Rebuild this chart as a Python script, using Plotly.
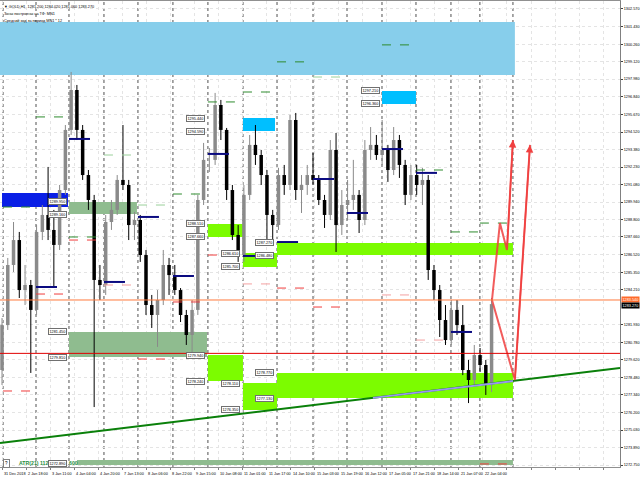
import plotly.graph_objects as go

# ---------------- data ----------------
CANDLE_HOURS = 4  # 4-hour candles (hours since 31 Dec 2018 open)
opens = [1278.96, 1281.90, 1285.83, 1287.46, 1284.19, 1284.52, 1282.89, 1287.99, 1289.10, 1288.12,
         1287.14, 1290.73, 1294.66, 1297.27, 1294.66, 1291.71, 1290.08, 1284.85, 1284.52, 1288.64,
         1289.43, 1291.39, 1291.06, 1288.44, 1288.77, 1286.48, 1283.21, 1282.56, 1283.54, 1285.83,
         1285.17, 1284.19, 1282.56, 1281.25, 1282.89, 1290.08, 1292.70, 1292.70, 1296.29, 1294.66,
         1290.73, 1287.79, 1286.48, 1290.41, 1293.68, 1293.02, 1291.71, 1289.10, 1288.44, 1291.71,
         1291.06, 1295.31, 1290.73, 1291.06, 1291.71, 1291.39, 1290.08, 1289.10, 1293.35, 1288.44,
         1289.75, 1290.08, 1290.41, 1288.77, 1293.35, 1293.68, 1293.02, 1293.35, 1292.04, 1294.00,
         1292.37, 1290.41, 1291.71, 1291.06, 1291.39, 1285.50, 1284.19, 1282.23, 1280.92, 1282.89,
         1281.90, 1278.96, 1278.31, 1279.94, 1279.29, 1277.98]
highs = [1282.36, 1286.29, 1288.64, 1287.99, 1285.83, 1284.85, 1288.44, 1289.75, 1292.24, 1289.43,
         1291.06, 1294.98, 1298.45, 1297.60, 1294.98, 1292.04, 1290.41, 1285.83, 1289.10, 1290.08,
         1291.71, 1294.98, 1291.39, 1289.30, 1289.10, 1286.81, 1283.87, 1284.19, 1286.81, 1286.29,
         1285.83, 1284.32, 1282.89, 1283.54, 1290.41, 1293.81, 1293.48, 1297.08, 1296.62, 1294.79,
         1291.06, 1288.44, 1291.06, 1294.33, 1294.98, 1293.35, 1292.04, 1289.43, 1292.17, 1292.37,
         1295.64, 1295.77, 1291.71, 1292.37, 1293.15, 1291.71, 1290.41, 1294.00, 1294.46, 1290.73,
         1291.39, 1292.70, 1290.73, 1294.00, 1294.85, 1294.33, 1295.31, 1293.68, 1294.85, 1294.33,
         1292.70, 1292.37, 1292.37, 1292.17, 1291.71, 1285.83, 1284.52, 1283.21, 1283.54, 1283.54,
         1283.21, 1279.62, 1280.60, 1280.40, 1279.62, 1283.67]
lows = [1277.98, 1281.58, 1285.37, 1283.67, 1283.21, 1278.77, 1282.56, 1287.46, 1287.46, 1284.39,
        1286.81, 1290.41, 1294.33, 1294.00, 1291.39, 1289.43, 1276.54, 1283.54, 1283.87, 1288.12,
        1289.10, 1290.73, 1287.46, 1287.46, 1286.03, 1282.56, 1281.71, 1280.47, 1283.21, 1283.87,
        1283.87, 1282.10, 1280.60, 1280.14, 1282.56, 1289.75, 1291.91, 1292.37, 1294.00, 1290.08,
        1287.46, 1286.03, 1286.03, 1290.08, 1292.37, 1291.06, 1287.33, 1287.46, 1288.12, 1290.41,
        1290.73, 1290.08, 1289.23, 1290.41, 1291.06, 1289.75, 1288.25, 1288.77, 1286.68, 1287.79,
        1288.77, 1289.43, 1287.92, 1288.44, 1292.70, 1292.70, 1292.37, 1291.26, 1291.71, 1291.52,
        1289.75, 1290.08, 1290.41, 1289.75, 1284.85, 1283.54, 1281.12, 1280.60, 1280.60, 1281.25,
        1278.63, 1276.80, 1277.98, 1278.83, 1277.33, 1277.52]
closes = [1281.90, 1285.83, 1287.46, 1284.19, 1284.52, 1282.89, 1287.99, 1289.10, 1288.12, 1287.14,
          1290.73, 1294.66, 1297.27, 1294.66, 1291.71, 1290.08, 1284.85, 1284.52, 1288.64, 1289.43,
          1291.39, 1291.06, 1288.44, 1288.77, 1286.48, 1283.21, 1282.56, 1283.54, 1285.83, 1285.17,
          1284.19, 1282.56, 1281.25, 1282.89, 1290.08, 1292.70, 1292.70, 1296.29, 1294.66, 1290.73,
          1287.79, 1286.48, 1290.41, 1293.68, 1293.02, 1291.71, 1289.10, 1288.44, 1291.71, 1291.06,
          1295.31, 1290.73, 1291.06, 1291.71, 1291.39, 1290.08, 1289.10, 1293.35, 1288.44, 1289.75,
          1290.08, 1290.41, 1288.77, 1293.35, 1293.68, 1293.02, 1293.35, 1292.04, 1294.00, 1292.37,
          1290.41, 1291.71, 1291.06, 1291.39, 1285.50, 1284.19, 1282.23, 1280.92, 1282.89, 1281.90,
          1278.96, 1278.31, 1279.94, 1279.29, 1277.98, 1283.27]
candle_hours = [CANDLE_HOURS * i + 1.4 for i in range(len(opens))]

# day boundaries (hours) – period separators
day_starts = [2.1, 25.0, 47.9, 72.2, 95.8, 120.1, 144.4, 168.75, 192.4, 217.4, 241.0, 265.3, 288.9, 313.2, 333.3, 356.25]

# time axis labels (every 17 bars)
time_labels = ["31 Dec 2018", "2 Jan 18:00", "3 Jan 11:00", "4 Jan 04:00", "4 Jan 20:00", "7 Jan 13:00",
               "8 Jan 06:00", "8 Jan 22:00", "9 Jan 15:00", "10 Jan 08:00", "11 Jan 01:00", "11 Jan 17:00",
               "14 Jan 10:00", "15 Jan 03:00", "15 Jan 19:00", "16 Jan 12:00", "17 Jan 05:00", "17 Jan 21:00",
               "18 Jan 14:00", "21 Jan 07:00", "22 Jan 04:00"]
LABEL_STEP = 16.7
label_hours = [1.4 + LABEL_STEP * k for k in range(len(time_labels))]
grid_hours = [1.4 + LABEL_STEP * k for k in range(26)]

# price axis ticks
price_ticks = [1302.57, 1301.43, 1300.26, 1299.12, 1297.98, 1296.84, 1295.67, 1294.52, 1293.38, 1292.23,
               1291.08, 1289.94, 1288.80, 1287.66, 1286.52, 1285.35, 1284.21, 1281.93, 1280.78, 1279.62,
               1278.48, 1277.34, 1276.20, 1275.03, 1273.89, 1272.75]

# zones: start hour, end hour, top price, bottom price, colour, label anchor hour (None = no labels)
zone_x0 = [0.0, 1.4, 47.9, 47.9, 144.4, 168.75, 192.4, 144.4, 168.75, 192.4, 168.75, 265.3, 53.5]
zone_x1 = [357.6, 47.2, 95.1, 143.75, 168.75, 192.4, 356.25, 168.75, 192.4, 356.25, 191.0, 288.9, 356.25]
zone_top = [1301.72, 1290.54, 1289.95, 1281.45, 1288.51, 1286.61, 1287.27, 1279.94, 1278.11, 1278.77, 1295.44, 1297.21, 1273.08]
zone_bot = [1298.25, 1289.62, 1289.16, 1279.81, 1287.66, 1285.70, 1286.48, 1278.24, 1276.35, 1277.13, 1294.59, 1296.36, 1272.75]
zone_color = ["#87ceeb", "#0a1fe6", "#8fbc8f", "#8fbc8f", "#7cfc00", "#7cfc00", "#7cfc00", "#7cfc00", "#7cfc00",
              "#7cfc00", "#00bfff", "#00bfff", "#8fbc8f"]
zone_label_x = [None, None, 46.5, 46.5, 142.4, 166.7, 190.3, 142.4, 166.7, 190.3, 142.4, 263.9, None]

# daily levels: (day index, price)
navy_days = [1, 2, 3, 4, 5, 6, 7, 8, 9, 10, 11, 12, 13]
navy_prices = [1284.39, 1294.07, 1284.72, 1288.97, 1285.11, 1293.09, 1286.42, 1287.33, 1291.45, 1289.23, 1293.41, 1291.85, 1281.45]
NAVY_LEN = 14.6
green_days = [0, 1, 2, 5, 6, 7, 8, 11, 12, 13, 14]
green_prices = [1289.62, 1295.51, 1287.66, 1290.47, 1296.49, 1297.14, 1299.11, 1300.22, 1292.04, 1287.99, 1288.57]
lgreen_days = [3, 4, 9]
lgreen_prices = [1293.02, 1289.75, 1298.12]
red_days = [0, 1, 2, 4, 5, 6, 8, 9, 14]
red_prices = [1277.59, 1283.93, 1287.46, 1279.68, 1283.41, 1286.48, 1284.32, 1283.08, 1272.82]
lred_days = [3, 7, 11, 12]
lred_prices = [1284.52, 1284.59, 1283.87, 1280.92]

# trend line and projections
trend_hours = [0.0, 430.6]
trend_prices = [1274.19, 1279.09]
trend2_hours = [259.0, 356.25]
trend2_prices = [1277.14, 1278.24]
proj1_hours = [341.7, 347.2, 352.1, 356.25]
proj1_prices = [1283.54, 1288.57, 1286.81, 1294.00]
proj2_hours = [341.7, 357.6, 368.1]
proj2_prices = [1283.54, 1278.31, 1293.68]

red_level = 1280.05
orange_level = 1283.54
bid_price = 1283.27

X_MAX = 430.6
Y_MIN, Y_MAX = 1272.62, 1303.09
FONT = "Liberation Sans"
FS = 3.8

fig = go.Figure()

shapes = []
for x0, x1, t, b, c in zip(zone_x0, zone_x1, zone_top, zone_bot, zone_color):
    shapes.append(dict(type="rect", xref="x", yref="y", x0=x0, x1=x1, y0=b, y1=t,
                       fillcolor=c, line=dict(width=0), layer="between"))
for d in day_starts:
    shapes.append(dict(type="line", xref="x", yref="paper", x0=d, x1=d, y0=0, y1=1,
                       line=dict(color="#505050", width=1, dash="dot"), layer="between"))
shapes.append(dict(type="line", xref="paper", yref="y", x0=0, x1=1, y0=red_level, y1=red_level,
                   line=dict(color="#e00000", width=1), layer="above"))
shapes.append(dict(type="line", xref="paper", yref="y", x0=0, x1=1, y0=orange_level, y1=orange_level,
                   line=dict(color="#ff7a3d", width=1), layer="above"))

# candles drawn as wick + body segments (thin, MT4-like)
for is_up, color in [(True, "#8a8a8a"), (False, "#000000")]:
    wx, wy, bx, by = [], [], [], []
    for h, o, hi, lo, c in zip(candle_hours, opens, highs, lows, closes):
        if (c >= o) != is_up:
            continue
        wx += [h, h, None]
        wy += [lo, hi, None]
        bx += [h, h, None]
        by += [o, c, None]
    fig.add_trace(go.Scatter(x=wx, y=wy, mode="lines", line=dict(color=color, width=1),
                             showlegend=False, hoverinfo="skip"))
    fig.add_trace(go.Scatter(x=bx, y=by, mode="lines", line=dict(color=color, width=3.5),
                             showlegend=False, hoverinfo="skip"))


def day_segments(days, prices, length=None):
    xs, ys = [], []
    for d, p in zip(days, prices):
        x0 = day_starts[d]
        x1 = x0 + length if length else day_starts[d + 1]
        xs += [x0, x1, None]
        ys += [p, p, None]
    return xs, ys


for days, prices, color, dash, width, length in [
        (green_days, green_prices, "#2e8b2e", "dash", 1, None),
        (lgreen_days, lgreen_prices, "#9ad09a", "dash", 1, None),
        (red_days, red_prices, "#f03c3c", "dash", 1, None),
        (lred_days, lred_prices, "#f4a0a0", "dash", 1, None),
        (navy_days, navy_prices, "#0a0a80", "solid", 2, NAVY_LEN)]:
    xs, ys = day_segments(days, prices, length)
    fig.add_trace(go.Scatter(x=xs, y=ys, mode="lines", line=dict(color=color, width=width, dash=dash),
                             showlegend=False, hoverinfo="skip"))

fig.add_trace(go.Scatter(x=trend_hours, y=trend_prices, mode="lines",
                         line=dict(color="#0a800a", width=2), showlegend=False, hoverinfo="skip"))
fig.add_trace(go.Scatter(x=trend2_hours, y=trend2_prices, mode="lines",
                         line=dict(color="#9a96f0", width=2), showlegend=False, hoverinfo="skip"))
for hx, py in [(proj1_hours, proj1_prices), (proj2_hours, proj2_prices)]:
    fig.add_trace(go.Scatter(x=hx, y=py, mode="lines", line=dict(color="#f04040", width=2),
                             opacity=0.85, showlegend=False, hoverinfo="skip"))

ann = []
# zone price labels
for lx, t, b in zip(zone_label_x, zone_top, zone_bot):
    if lx is None:
        continue
    for p in (t, b):
        ann.append(dict(x=lx, y=p, xref="x", yref="y", text=f"{p:.3f}", showarrow=False,
                        xanchor="right", yanchor="middle", font=dict(family=FONT, size=FS, color="#000"),
                        bgcolor="#ffffff", bordercolor="#707070", borderwidth=1, borderpad=0.5))
# arrow heads
for hx, py in [(proj1_hours, proj1_prices), (proj2_hours, proj2_prices)]:
    ann.append(dict(x=hx[-1], y=py[-1], ax=hx[-2], ay=py[-2], xref="x", yref="y", axref="x", ayref="y",
                    text="", showarrow=True, arrowhead=2, arrowsize=1, arrowwidth=1.5, arrowcolor="#f04040"))
# time labels
for h, t in zip(label_hours, time_labels):
    ann.append(dict(x=h, y=0, xref="x", yref="paper", text=t, showarrow=False, xanchor="left",
                    yanchor="top", yshift=-3, font=dict(family=FONT, size=FS, color="#000")))
# right-side price labels
ann.append(dict(x=1, y=orange_level, xref="paper", yref="y", text=f"{orange_level:.3f}", showarrow=False,
                xanchor="left", yanchor="middle", xshift=1, bgcolor="#ff6a2a",
                font=dict(family=FONT, size=FS, color="#ffffff"), borderpad=0.5))
ann.append(dict(x=1, y=bid_price, xref="paper", yref="y", text=f"{bid_price:.3f}", showarrow=False,
                xanchor="left", yanchor="middle", xshift=1, yshift=-1, bgcolor="#000000",
                font=dict(family=FONT, size=FS, color="#ffffff"), borderpad=0.5))
# header text
header = ["\u25bc GOLD,H1  1281.200 1284.020 1281.060 1283.270",
          "Зоны построены на ТФ: MN1",
          "Средний ход за период MN1 * 12"]
for k, t in enumerate(header):
    ann.append(dict(x=0.004, y=1, xref="paper", yref="paper", text=t, showarrow=False, xanchor="left",
                    yanchor="top", yshift=-2 - 7 * k, font=dict(family=FONT, size=FS, color="#000")))
# ATR footer
atr_y = 1272.88
ann.append(dict(x=2.0, y=atr_y, xref="x", yref="y", text="?", showarrow=False, xanchor="left",
                font=dict(family=FONT, size=4.5, color="#000"), bgcolor="#ffffff",
                bordercolor="#808080", borderwidth=1, borderpad=1))
ann.append(dict(x=11.5, y=atr_y, xref="x", yref="y", text="<b>ATR(21) 112</b>", showarrow=False,
                xanchor="left", font=dict(family=FONT, size=5.2, color="#1e8c3c")))
ann.append(dict(x=46.5, y=atr_y, xref="x", yref="y", text="1272.890", showarrow=False, xanchor="right",
                font=dict(family=FONT, size=FS, color="#000"), bgcolor="#ffffff",
                bordercolor="#707070", borderwidth=1, borderpad=0.5))
ann.append(dict(x=46.8, y=atr_y, xref="x", yref="y", text="<b>600</b>", showarrow=False, xanchor="left",
                font=dict(family=FONT, size=5.2, color="#1e8c3c")))

fig.update_layout(
    width=640, height=480, margin=dict(l=0, r=20, t=1, b=13),
    paper_bgcolor="#ffffff", plot_bgcolor="#ffffff", showlegend=False,
    shapes=shapes, annotations=ann,
    xaxis=dict(range=[0, X_MAX], tickvals=grid_hours,
               showticklabels=False, ticks="outside", ticklen=2, tickcolor="#808080",
               showgrid=True, gridcolor="#e4e4e4", griddash="dot", zeroline=False,
               showline=True, linecolor="#909090", linewidth=1, mirror=True),
    yaxis=dict(range=[Y_MIN, Y_MAX], side="right", tickvals=price_ticks,
               ticktext=[f"{v:.3f}" for v in price_ticks],
               tickfont=dict(family=FONT, size=FS, color="#000"), ticks="outside", ticklen=2,
               tickcolor="#404040", showgrid=True, gridcolor="#e4e4e4", griddash="dot",
               zeroline=False, showline=True, linecolor="#808080", linewidth=1, mirror=True),
)

fig.write_html("out.html", config={"displayModeBar": False},
               post_script="document.body.style.margin='0px';document.body.style.overflow='hidden';")
